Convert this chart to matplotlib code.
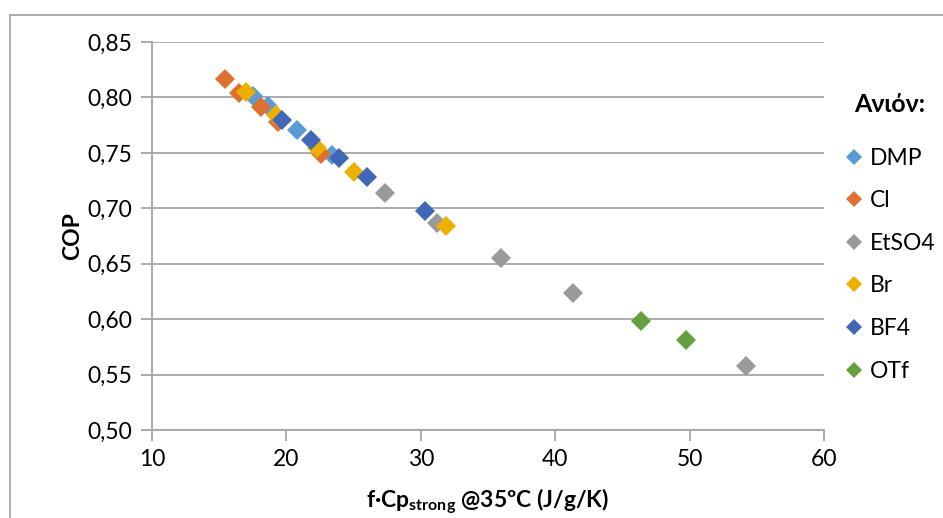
import matplotlib
matplotlib.use("Agg")
import matplotlib.pyplot as plt
from matplotlib.lines import Line2D
from matplotlib.ticker import FuncFormatter, MultipleLocator

plt.rcParams['font.family'] = ['Lato', 'DejaVu Sans']
plt.rcParams['mathtext.fontset'] = 'custom'
plt.rcParams['mathtext.rm'] = 'Lato'
plt.rcParams['mathtext.bf'] = 'Lato:bold'

# f*Cp_strong @35C (J/g/K) and COP per anion
dmp_x = [17.5, 18.6, 20.8, 23.4]
dmp_y = [0.801, 0.792, 0.771, 0.748]
cl_x = [15.4, 16.5, 18.1, 19.4, 22.6]
cl_y = [0.817, 0.804, 0.791, 0.778, 0.749]
etso4_x = [27.3, 31.2, 36.0, 41.3, 54.2]
etso4_y = [0.714, 0.687, 0.655, 0.624, 0.558]
br_x = [17.0, 19.2, 22.3, 25.0, 31.9]
br_y = [0.805, 0.784, 0.754, 0.733, 0.684]
bf4_x = [19.7, 21.8, 23.9, 26.0, 30.3]
bf4_y = [0.780, 0.762, 0.745, 0.728, 0.698]
otf_x = [46.4, 49.7]
otf_y = [0.598, 0.581]

series = [
    ('DMP', dmp_x, dmp_y, '#5b9bd5'),
    ('Cl', cl_x, cl_y, '#dd7230'),
    ('EtSO4', etso4_x, etso4_y, '#9a9a9a'),
    ('Br', br_x, br_y, '#eeb000'),
    ('BF4', bf4_x, bf4_y, '#4168b6'),
    ('OTf', otf_x, otf_y, '#66a03e'),
]

fig = plt.figure(figsize=(9.43, 5.18), dpi=100)
ax = fig.add_axes([152/943, 1-430/518, 672/943, 388/518])

for name, xs, ys, col in series:
    ax.plot(xs, ys, linestyle='none', marker='D', markersize=10,
            color=col, markeredgewidth=0, label=name)

ax.set_xlim(10, 60)
ax.set_ylim(0.50, 0.85)
ax.xaxis.set_major_locator(MultipleLocator(10))
ax.yaxis.set_major_locator(MultipleLocator(0.05))
ax.yaxis.set_major_formatter(FuncFormatter(lambda v, p: f'{v:.2f}'.replace('.', ',')))
ax.grid(axis='y', color='#a6a6a6', linewidth=1.3)
ax.set_axisbelow(True)
for s in ['top', 'right']:
    ax.spines[s].set_visible(False)
for s in ['left', 'bottom']:
    ax.spines[s].set_color('#a6a6a6')
    ax.spines[s].set_linewidth(1.3)
ax.tick_params(direction='out', length=8, width=1.3, color='#a6a6a6',
               labelsize=16.5, pad=6)

ax.set_ylabel('COP', fontsize=16.5, fontweight='bold', labelpad=3)
ax.set_xlabel(r'f·Cp$_\mathbf{strong}$ @35ºC (J/g/K)', fontsize=16.5,
              fontweight='bold', labelpad=12)

leg = ax.legend(loc='upper left', bbox_to_anchor=(1.0, 0.922), frameon=False,
                title='Ανιόν:', fontsize=16.5, handlelength=0.8,
                handletextpad=0.3, labelspacing=0.94, markerscale=0.8,
                alignment='center')
leg.get_title().set_fontweight('bold')
leg.get_title().set_fontsize(18)
leg._legend_box.sep = 23

# chart border
fig.add_artist(Line2D([10/943, 1], [1-15/518, 1-15/518], color='#a6a6a6', lw=1.3))
fig.add_artist(Line2D([10/943, 10/943], [0, 1-15/518], color='#a6a6a6', lw=1.3))

fig.savefig('out.png', dpi=100)
